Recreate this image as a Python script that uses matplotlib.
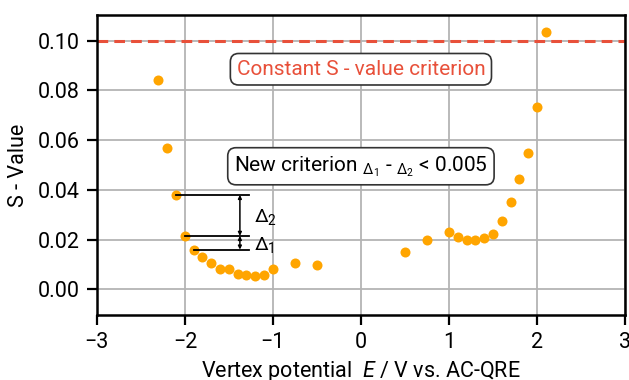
import matplotlib
matplotlib.use('Agg')
import matplotlib.pyplot as plt

plt.rcParams['font.family'] = ['Roboto', 'DejaVu Sans']
plt.rcParams['mathtext.fontset'] = 'custom'
plt.rcParams['mathtext.rm'] = 'Roboto'
plt.rcParams['mathtext.it'] = 'Roboto:italic'

# data
e_neg = [-2.3, -2.2, -2.1, -2.0, -1.9, -1.8, -1.7, -1.6, -1.5, -1.4, -1.3, -1.2, -1.1, -1.0, -0.75, -0.5]
s_neg = [0.084, 0.057, 0.038, 0.0215, 0.016, 0.013, 0.0107, 0.0083, 0.0083, 0.006, 0.0056, 0.0052, 0.0059, 0.008, 0.0106, 0.0100]
e_pos = [0.5, 0.75, 1.0, 1.1, 1.2, 1.3, 1.4, 1.5, 1.6, 1.7, 1.8, 1.9, 2.0, 2.1]
s_pos = [0.015, 0.0198, 0.023, 0.0209, 0.0198, 0.0198, 0.0207, 0.0223, 0.0275, 0.0352, 0.0443, 0.055, 0.0735, 0.1035]
s_const = 0.10
xticks = [-3, -2, -1, 0, 1, 2, 3]
yticks = [0.00, 0.02, 0.04, 0.06, 0.08, 0.10]

fig = plt.figure(figsize=(6.29, 3.8), dpi=100)
ax = fig.add_axes([0.154, 0.171, 0.8396, 0.7895])

ax.grid(True, color='#b4b4b4', linewidth=1.3, zorder=0)
ax.axhline(s_const, color='#e8503a', linestyle='--', linewidth=2.2, dashes=(3.5, 2), zorder=2)
ax.scatter(e_neg + e_pos, s_neg + s_pos, s=52, color='#FFA500', zorder=3, linewidths=0)

# delta annotations
x_end = -1.27
ax.plot([e_neg[2], x_end], [s_neg[2], s_neg[2]], color='black', lw=1.3, zorder=4)
ax.plot([e_neg[3], x_end], [s_neg[3], s_neg[3]], color='black', lw=1.3, zorder=4)
ax.plot([e_neg[4], x_end], [s_neg[4], s_neg[4]], color='black', lw=1.3, zorder=4)
xa = -1.375
ax.annotate('', xy=(xa, s_neg[3]), xytext=(xa, s_neg[2]),
            arrowprops=dict(arrowstyle='<|-|>', color='black', lw=1.1, mutation_scale=5, shrinkA=0, shrinkB=0))
ax.annotate('', xy=(xa, s_neg[4]), xytext=(xa, s_neg[3]),
            arrowprops=dict(arrowstyle='<|-|>', color='black', lw=1.1, mutation_scale=5, shrinkA=0, shrinkB=0))
ax.text(-1.22, 0.0292, r'$\Delta_2$', fontsize=14, va='center', ha='left')
ax.text(-1.22, 0.0180, r'$\Delta_1$', fontsize=14, va='center', ha='left')

box = dict(boxstyle='round,pad=0.3,rounding_size=0.4', facecolor='white', edgecolor='#333333', lw=1.2)
ax.text(0, 0.0885, 'Constant S - value criterion', color='#e8503a', fontsize=15,
        ha='center', va='center', bbox=box, zorder=5)
ax.text(0, 0.0495, r'New criterion $_{\Delta_1}$ - $_{\Delta_2}$ < 0.005', color='black', fontsize=15,
        ha='center', va='center', bbox=box, zorder=5)

ax.set_xlim(-3, 3)
ax.set_ylim(-0.0103, 0.1103)
ax.set_xticks(xticks)
ax.set_yticks(yticks)
ax.set_xticklabels(['\u22123', '\u22122', '\u22121', '0', '1', '2', '3'])
ax.set_yticklabels(['%.2f' % v for v in yticks])
ax.tick_params(labelsize=15.5, length=7.5, width=1.6, direction='out', pad=5)
for sp in ax.spines.values():
    sp.set_linewidth(1.8)

ax.set_xlabel(r'Vertex potential  $E$ / V vs. AC-QRE', fontsize=15.5, labelpad=4)
ax.set_ylabel('S - Value', fontsize=15.5, labelpad=6)

fig.savefig('out.png', dpi=100)
